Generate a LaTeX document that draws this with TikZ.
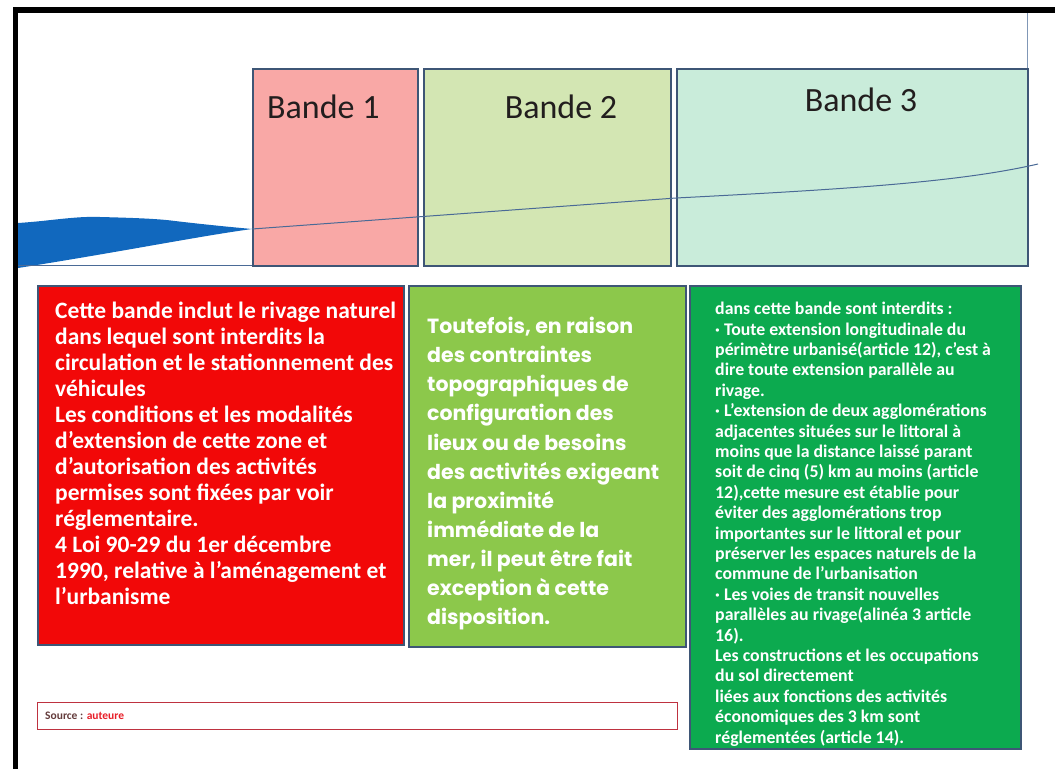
\documentclass[tikz,border=0pt]{standalone}
\usepackage{fontspec}
\setmainfont{Carlito}
\newfontfamily\geo{Poppins}
\definecolor{bonefill}{RGB}{249,168,166}
\definecolor{btwofill}{RGB}{211,230,179}
\definecolor{bthreefill}{RGB}{201,236,218}
\definecolor{bandborder}{RGB}{62,86,118}
\definecolor{redbox}{RGB}{242,8,8}
\definecolor{greenbox}{RGB}{140,200,75}
\definecolor{darkgreenbox}{RGB}{12,170,79}
\definecolor{seablue}{RGB}{17,104,190}
\definecolor{coastline}{RGB}{74,106,150}
\definecolor{bandtext}{RGB}{34,30,30}
\definecolor{srcborder}{RGB}{190,50,64}
\definecolor{srctext}{RGB}{100,60,60}
\definecolor{srcred}{RGB}{232,30,40}
\tikzset{
  bandbox/.style={draw=bandborder, line width=1.8pt, inner sep=0pt, anchor=north west},
  infobox/.style={draw=bandborder, line width=1.5pt, inner sep=0pt, anchor=north west},
  bandlabel/.style={text=bandtext, inner sep=0pt, font=\fontsize{34}{40}\selectfont},
  redtext/.style={text=white, align=left, inner sep=0pt, anchor=north west, font=\bfseries\fontsize{23.5}{26}\selectfont},
  geotext/.style={text=white, align=left, inner sep=0pt, anchor=north west, font=\geo\bfseries\fontsize{20.5}{29.1}\selectfont},
  smalltext/.style={text=white, align=left, inner sep=0pt, anchor=north west, font=\bfseries\fontsize{17.8}{20.4}\selectfont},
}
\begin{document}
\begin{tikzpicture}[x=1pt,y=-1pt]
\useasboundingbox (0,0) rectangle (1055,769);
\fill[white] (0,0) rectangle (1055,769);
% frame
\fill[black] (13,7) rectangle (1055,13);
\fill[black] (13,7) rectangle (18,769);
\draw[coastline!70, line width=0.8pt] (1027,13) -- (1027,68);
% bands
\node[bandbox, fill=bonefill, minimum width=165pt, minimum height=197pt] (b1) at (252,68) {};
\node[bandbox, fill=btwofill, minimum width=247pt, minimum height=197pt] (b2) at (423,68) {};
\node[bandbox, fill=bthreefill, minimum width=351pt, minimum height=197pt] (b3) at (676,68) {};
% sea
\fill[seablue] (18,223) .. controls (50,221) and (75,216) .. (100,217)
  .. controls (140,218) and (160,219) .. (175,221)
  .. controls (200,224) and (230,227) .. (252,229)
  .. controls (200,236) and (120,252) .. (18,268) -- cycle;
\draw[coastline, line width=0.8pt] (18,265) -- (252,265);
\coordinate (shore) at (252,229);
\coordinate (inland) at (1038,164);
\draw[coastline, line width=1pt] (shore) -- (676,198) .. controls (850,189) and (960,182) .. (inland);
% band labels
\node[bandlabel, anchor=west] (l1) at (267,107) {Bande 1};
\node[bandlabel] (l2) at (561,107) {Bande 2};
\node[bandlabel] (l3) at (861,100) {Bande 3};
% info boxes
\node[infobox, fill=redbox, minimum width=366pt, minimum height=359pt] (r) at (37,285) {};
\node[infobox, fill=greenbox, minimum width=277pt, minimum height=361pt] (g) at (408,285) {};
\node[infobox, fill=darkgreenbox, minimum width=331pt, minimum height=463pt] (d) at (689,285) {};
\node[redtext] (rt) at (55,302) {Cette bande inclut le rivage naturel\\
dans lequel sont interdits la\\
circulation et le stationnement des\\
véhicules\\
Les conditions et les modalités\\
d’extension de cette zone et\\
d’autorisation des activités\\
permises sont fixées par voir\\
réglementaire.\\
4 Loi 90-29  du 1er décembre\\
1990, relative à l’aménagement et\\
l’urbanisme};
\node[geotext] (gt) at (427,317) {Toutefois, en raison\\
des contraintes\\
topographiques de\\
configuration des\\
lieux ou de besoins\\
des activités exigeant\\
la proximité\\
immédiate de la\\
mer, il peut être fait\\
exception à cette\\
disposition.};
\node[smalltext] (dt) at (715,302) {dans cette bande sont interdits :\\
· Toute extension longitudinale du\\
périmètre urbanisé(article 12), c’est à\\
dire toute extension parallèle au\\
rivage.\\
· L’extension de deux agglomérations\\
adjacentes situées sur  le littoral à\\
moins que la distance laissé parant\\
soit de cinq (5) km  au moins (article\\
12),cette mesure est établie pour\\
éviter des agglomérations trop\\
importantes sur le littoral et pour\\
préserver les espaces naturels de la\\
commune de l’urbanisation\\
· Les voies de transit nouvelles\\
parallèles au rivage(alinéa 3 article\\
16).\\
Les constructions et les occupations\\
du sol directement\\
liées aux fonctions des activités\\
économiques  des 3 km sont\\
réglementées (article 14).};
% source
\node[draw=srcborder, line width=1pt, inner sep=0pt, anchor=north west, minimum width=640pt, minimum height=27pt] (s) at (37,702) {};
\node[anchor=west, inner sep=0pt, font=\bfseries\fontsize{11.5}{13}\selectfont] (st) at (45,716) {\textcolor{srctext}{Source :} \textcolor{srcred}{auteure}};
\end{tikzpicture}
\end{document}
